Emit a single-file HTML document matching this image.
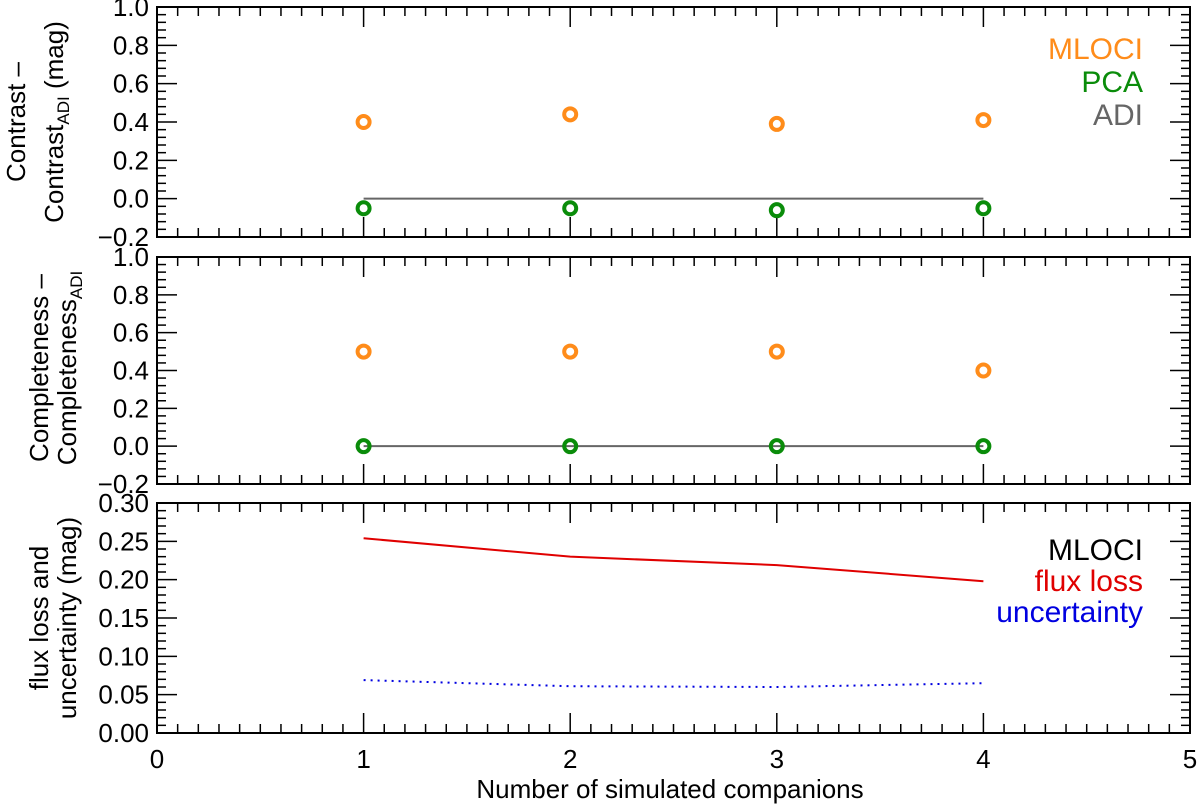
<!DOCTYPE html>
<html><head><meta charset="utf-8"><style>
body{margin:0;background:#fff;}
svg{display:block;font-family:"Liberation Sans",sans-serif;}
</style></head><body>
<svg id="chart" width="1200" height="806" xmlns="http://www.w3.org/2000/svg">
<g id="g"></g>
<g font-size="30" text-anchor="end">
<text x="1143" y="59" fill="#ff8c1a">MLOCI</text>
<text x="1143" y="92" fill="#0a8c0a">PCA</text>
<text x="1143" y="125" fill="#666">ADI</text>
<text x="1143" y="560" fill="#000">MLOCI</text>
<text x="1143" y="591" fill="#e00000">flux loss</text>
<text x="1143" y="622" fill="#0000e0">uncertainty</text>
</g>
<g font-size="26" text-anchor="middle">
<text transform="translate(25,122) rotate(-90)">Contrast –</text>
<text transform="translate(63,122) rotate(-90)">Contrast<tspan font-size="17" dy="6">ADI</tspan><tspan dy="-6"> (mag)</tspan></text>
<text transform="translate(48,368) rotate(-90)">Completeness –</text>
<text transform="translate(76,368) rotate(-90)">Completeness<tspan font-size="17" dy="6">ADI</tspan></text>
<text transform="translate(48,618) rotate(-90)">flux loss and</text>
<text transform="translate(76,618) rotate(-90)">uncertainty (mag)</text>
<text x="670" y="798">Number of simulated companions</text>
</g>
</svg>
<script>
const companions = [1, 2, 3, 4];
const contrastMLOCI = [0.40, 0.44, 0.39, 0.41];
const contrastPCA = [-0.05, -0.05, -0.06, -0.05];
const complMLOCI = [0.5, 0.5, 0.5, 0.4];
const complPCA = [0, 0, 0, 0];
const adiLine = [0, 0, 0, 0];
const fluxLoss = [0.254, 0.230, 0.219, 0.198];
const uncertainty = [0.069, 0.061, 0.060, 0.065];
const xTicks = ['0', '1', '2', '3', '4', '5'];
const yTicksTop = ['−0.2', '0.0', '0.2', '0.4', '0.6', '0.8', '1.0'];
const yTicksBot = ['0.00', '0.05', '0.10', '0.15', '0.20', '0.25', '0.30'];

const NS = 'http://www.w3.org/2000/svg';
const g = document.getElementById('g');
const X0 = 157, X1 = 1190;
const xs = v => X0 + (v - 0) / 5 * (X1 - X0);
function el(tag, attrs, parent) {
  const e = document.createElementNS(NS, tag);
  for (const k in attrs) e.setAttribute(k, attrs[k]);
  (parent || g).appendChild(e);
  return e;
}
const panels = [
  {name: 'contrast', top: 7, bot: 237, ymin: -0.2, ymax: 1.0, major: 0.2, minor: 0.04, labels: yTicksTop},
  {name: 'completeness', top: 257, bot: 484, ymin: -0.2, ymax: 1.0, major: 0.2, minor: 0.04, labels: yTicksTop},
  {name: 'flux', top: 503, bot: 733, ymin: 0, ymax: 0.30, major: 0.05, minor: 0.01, labels: yTicksBot}
];
panels.forEach((p, pi) => {
  p.ys = v => p.bot - (v - p.ymin) / (p.ymax - p.ymin) * (p.bot - p.top);
  const f = el('rect', {x: X0, y: p.top, width: X1 - X0, height: p.bot - p.top, fill: 'none', stroke: '#000', 'stroke-width': 2});
  
  
  for (let i = 0; i <= 50; i++) {
    const x = xs(i / 10), L = i % 10 === 0 ? 20 : 9;
    el('line', {x1: x, x2: x, y1: p.bot, y2: p.bot - L, stroke: '#000', 'stroke-width': 1.5});
    el('line', {x1: x, x2: x, y1: p.top, y2: p.top + L, stroke: '#000', 'stroke-width': 1.5});
  }
  const n = Math.round((p.ymax - p.ymin) / p.minor);
  const per = Math.round(p.major / p.minor);
  for (let i = 0; i <= n; i++) {
    const y = p.ys(p.ymin + i * p.minor), L = i % per === 0 ? 20 : 9;
    el('line', {x1: X0, x2: X0 + L, y1: y, y2: y, stroke: '#000', 'stroke-width': 1.5});
    el('line', {x1: X1, x2: X1 - L, y1: y, y2: y, stroke: '#000', 'stroke-width': 1.5});
  }
  p.labels.forEach((t, i) => {
    const tx = el('text', {x: X0 - 8, y: p.ys(p.ymin + i * p.major) + 9, 'font-size': 26, 'text-anchor': 'end'});
    tx.textContent = t;
    
    
  });
});
xTicks.forEach((t, i) => {
  const tx = el('text', {x: xs(+t), y: 768, 'font-size': 26, 'text-anchor': 'middle'});
  tx.textContent = t;
  
  
});
function line(p, vals, color, name, dash) {
  const pts = companions.map((c, i) => xs(c) + ',' + p.ys(vals[i])).join(' ');
  const a = {points: pts, fill: 'none', stroke: color, 'stroke-width': 2};
  if (dash) { a['stroke-dasharray'] = '2,5'; }
  const l = el('polyline', a);
  
  
}
function dots(p, vals, color, name) {
  companions.forEach((c, i) => {
    const d = el('circle', {cx: xs(c), cy: p.ys(vals[i]), r: 6, fill: 'none', stroke: color, 'stroke-width': 4});
    
    
  });
}
line(panels[0], adiLine, '#666', 'adi-line-contrast');
dots(panels[0], contrastMLOCI, '#ff8c1a', 'mloci-contrast-point');
dots(panels[0], contrastPCA, '#0a8c0a', 'pca-contrast-point');
line(panels[1], adiLine, '#666', 'adi-line-completeness');
dots(panels[1], complMLOCI, '#ff8c1a', 'mloci-completeness-point');
dots(panels[1], complPCA, '#0a8c0a', 'pca-completeness-point');
line(panels[2], fluxLoss, '#e00000', 'flux-loss-line');
line(panels[2], uncertainty, '#0000e0', 'uncertainty-line', true);
</script>
</body></html>
